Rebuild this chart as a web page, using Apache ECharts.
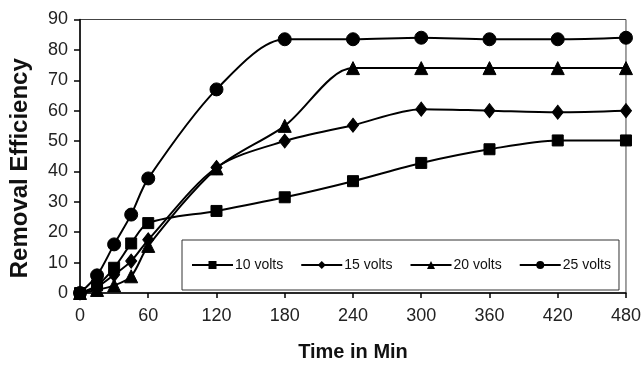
<!DOCTYPE html>
<html>
<head>
<meta charset="utf-8">
<script src="https://cdn.jsdelivr.net/npm/echarts@6/dist/echarts.min.js"></script>
<style>html,body{margin:0;padding:0;background:#fff}#c{width:644px;height:367px}</style>
</head>
<body>
<div id="c"></div>
<script>
var times = [0, 15, 30, 45, 60, 120, 180, 240, 300, 360, 420, 480];
var seriesNames = ['10 volts', '15 volts', '20 volts', '25 volts'];
var volts10 = [0, 2.5, 8.3, 16.3, 23, 27, 31.5, 36.8, 42.8, 47.3, 50.2, 50.2];
var volts15 = [0, 2, 6, 10.5, 17.5, 41.3, 50, 55.2, 60.5, 60, 59.5, 60];
var volts20 = [0, 1, 2.5, 5.5, 15.5, 41, 55, 74, 74, 74, 74, 74];
var volts25 = [0, 5.8, 16, 25.8, 37.7, 67, 83.5, 83.5, 84, 83.5, 83.5, 84];
var yTicks = [0, 10, 20, 30, 40, 50, 60, 70, 80, 90];
var xTicks = [0, 60, 120, 180, 240, 300, 360, 420, 480];

var values = [volts10, volts15, volts20, volts25];
var symbols = ['rect', 'diamond', 'triangle', 'circle'];
var symSizes = [11, [11, 14], 13, 13];

function pairs(v) { return times.map(function (t, i) { return [t, v[i]]; }); }

var chart = echarts.init(document.getElementById('c'), null, { renderer: 'canvas' });
chart.setOption({
  animation: false,
  backgroundColor: '#fff',
  grid: { left: 80, right: 13, top: 19.5, bottom: 66, show: true, borderColor: '#444', borderWidth: 1 },
  legend: {
    left: 182, top: 240, orient: 'horizontal',
    data: seriesNames,
    itemWidth: 41, itemHeight: 10, itemGap: 17,
    padding: [18, 8, 18, 9],
    borderColor: '#333', borderWidth: 1, backgroundColor: '#fff',
    textStyle: { fontFamily: 'Liberation Sans, Arial', fontSize: 14, color: '#111', padding: [0, 0, 0, -3] }
  },
  xAxis: {
    type: 'value', min: 0, max: 480, interval: 60,
    name: 'Time in Min', nameLocation: 'middle', nameGap: 49,
    nameTextStyle: { fontFamily: 'Liberation Sans, Arial', fontWeight: 'bold', fontSize: 20, color: '#111' },
    axisLine: { show: true, lineStyle: { color: '#000', width: 1.5 } },
    axisTick: { show: true, length: 5, lineStyle: { color: '#000', width: 1.5 } },
    axisLabel: { margin: 14, fontFamily: 'Liberation Sans, Arial', fontSize: 18, color: '#222',
      formatter: function (v) { return xTicks.indexOf(v) >= 0 ? String(v) : ''; } },
    splitLine: { show: false }
  },
  yAxis: {
    type: 'value', min: 0, max: 90, interval: 10,
    name: 'Removal Efficiency', nameLocation: 'middle', nameGap: 48,
    nameTextStyle: { fontFamily: 'Liberation Sans, Arial', fontWeight: 'bold', fontSize: 24, color: '#111', padding: [0, 24, 0, 0] },
    axisLine: { show: true, lineStyle: { color: '#000', width: 1.5 } },
    axisTick: { show: true, length: 6, lineStyle: { color: '#000', width: 1.5 } },
    axisLabel: { margin: 12, fontFamily: 'Liberation Sans, Arial', fontSize: 18, color: '#222',
      formatter: function (v) { return yTicks.indexOf(v) >= 0 ? String(v) : ''; } },
    splitLine: { show: false }
  },
  series: seriesNames.map(function (n, i) {
    return {
      name: n, type: 'line', data: pairs(values[i]), smooth: 0.3,
      symbol: symbols[i], symbolSize: symSizes[i], showSymbol: true,
      lineStyle: { color: '#000', width: 2 },
      itemStyle: { color: '#000', borderColor: '#000' },
      z: 2 + i
    };
  })
});
</script>
</body>
</html>
